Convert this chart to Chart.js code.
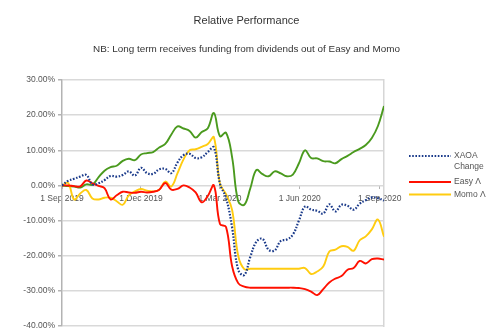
<!DOCTYPE html>
<html>
<head>
<meta charset="utf-8">
<script src="https://cdn.jsdelivr.net/npm/chart.js@4.4.0/dist/chart.umd.min.js"></script>
<style>
html,body{margin:0;padding:0;background:#fff;}
#wrap{width:497px;height:335px;}
</style>
</head>
<body>
<div id="wrap"><canvas id="c" width="497" height="335"></canvas></div>
<script>
// Days since 1 Sep 2019 (weekly observations)
const days = [0,7,14,21,28,35,42,49,56,63,70,77,84,91,98,105,112,119,126,133,140,147,154,161,168,175,182,189,196,203,210,217,224,231,238,245,252,259,266,273,280,287,294,301,308,315,322,329,336,343,350,357,364,371];

const xaoaChange = [0,1.3,1.9,2.5,3.0,0.3,0.6,1.5,2.7,2.5,3.0,4.0,2.8,5.0,3.5,3.3,4.6,4.7,3.5,6.5,8.6,9.0,7.8,8.0,9.5,10.8,0.5,-3.5,-12,-24,-25.5,-20.3,-16,-15.2,-18.3,-18.5,-15.8,-15.4,-14,-10,-6,-6.9,-7.2,-8,-5.4,-7.4,-5.5,-5.8,-6.9,-5.2,-4.2,-3.4,-3.6,-4.3];

const easy = [0,0,-0.2,-0.3,1.4,0.6,-0.1,-0.8,-4.0,-2.8,-1.8,-2.0,-2.1,-1.8,-2.0,-1.8,-1.2,0.7,-1.2,-1.0,0.0,-0.6,-2.0,-4.8,-3.0,0.0,-11.0,-11.8,-23,-27.8,-28.8,-29.1,-29.1,-29.1,-29.1,-29.1,-29.1,-29.1,-29.1,-29.2,-29.5,-30.2,-31.2,-29.5,-27.6,-26.5,-25.8,-24,-23.5,-21.5,-22.2,-21.0,-20.8,-21.1];

const momo = [0,0.7,-4.0,-2.3,-1.3,-3.7,-4.0,-3.5,-3.5,-4.5,-5.5,-2.8,-1.7,-1.0,-1.5,-1.7,-1.2,1.1,-0.3,3.4,7.4,10.0,10.3,11.0,11.8,13.7,0.5,-2.5,-7,-20,-23.8,-23.7,-23.7,-23.7,-23.7,-23.7,-23.7,-23.7,-23.7,-23.7,-23.5,-25.2,-24.5,-23.1,-18.8,-18.3,-17.3,-17.5,-18.6,-15.6,-14.5,-12.5,-9.7,-14.6];

const longTerm = [0,-0.2,-0.3,-0.6,0.3,0.2,2.3,4.2,5.2,5.6,7.0,7.6,7.2,8.8,9.2,9.5,10.8,11.8,14.5,16.8,16.2,15.5,13.6,15.2,16.3,20.6,14.0,15.0,8.0,-4.5,-5.5,-0.8,4.4,3.2,2.6,4.0,3.4,2.6,3.1,6.3,10.0,7.8,7.7,6.9,6.8,6.3,7.5,8.4,9.5,10.4,11.5,13.5,16.9,22.6];

const tickDays = [0,91,182,274,366];
const tickLabels = ['1 Sep 2019','1 Dec 2019','1 Mar 2020','1 Jun 2020','1 Sep 2020'];

const seriesNames = ['XAOA\nChange','Easy \u039B','Momo \u039B','Long term'];
const titleText = 'Relative Performance';
const subtitleText = 'NB: Long term receives funding from dividends out of Easy and Momo';

const FONT = '"Liberation Sans", Arial, sans-serif';
const toPts = arr => arr.map((v,i)=>({x:days[i], y:v}));

const titlePlugin = {
  id:'titles',
  afterDraw(chart){
    const ctx = chart.ctx;
    const cx = chart.width / 2 - 2;
    ctx.save();
    ctx.textAlign = 'center';
    ctx.textBaseline = 'middle';
    ctx.fillStyle = '#333';
    ctx.font = '11px ' + FONT;
    ctx.fillText(titleText, cx, 21);
    ctx.font = '9.9px ' + FONT;
    ctx.fillText(subtitleText, cx, 49);
    ctx.restore();
  }
};

const legendPlugin = {
  id:'customLegend',
  afterDraw(chart){
    const ctx = chart.ctx;
    const ca = chart.chartArea;
    const x0 = ca.right + 25, x1 = ca.right + 67, tx = ca.right + 70;
    const items = [
      {ds:0, y: ca.top + 76},
      {ds:1, y: ca.top + 102},
      {ds:2, y: ca.top + 114.5}
    ];
    ctx.save();
    ctx.font = '8.5px ' + FONT;
    ctx.textBaseline = 'middle';
    ctx.textAlign = 'left';
    items.forEach(it=>{
      const d = chart.data.datasets[it.ds];
      ctx.beginPath();
      ctx.strokeStyle = d.borderColor;
      ctx.lineWidth = d.borderWidth;
      ctx.setLineDash(d.borderDash || []);
      ctx.moveTo(x0, it.y); ctx.lineTo(x1, it.y);
      ctx.stroke();
      ctx.setLineDash([]);
      ctx.fillStyle = '#555';
      const lines = seriesNames[it.ds].split('\n');
      lines.forEach((ln,k)=>ctx.fillText(ln, tx, it.y + k*11));
    });
    ctx.restore();
  }
};

new Chart(document.getElementById('c'), {
  type:'line',
  data:{
    datasets:[
      {label:seriesNames[0], data:toPts(xaoaChange), borderColor:'#1a3a8a', borderWidth:2.2, borderDash:[1.6,1.6], pointRadius:0, tension:0.4, fill:false},
      {label:seriesNames[1], data:toPts(easy), borderColor:'#ff1000', borderWidth:1.9, pointRadius:0, tension:0.4, fill:false},
      {label:seriesNames[2], data:toPts(momo), borderColor:'#ffcc10', borderWidth:1.9, pointRadius:0, tension:0.4, fill:false},
      {label:seriesNames[3], data:toPts(longTerm), borderColor:'#4a9a1e', borderWidth:1.9, pointRadius:0, tension:0.4, fill:false}
    ]
  },
  options:{
    responsive:false,
    animation:false,
    devicePixelRatio:1,
    layout:{padding:{left:4, right:0, top:80, bottom:9}},
    plugins:{
      legend:{display:false},
      tooltip:{enabled:false},
      title:{display:false},
      subtitle:{display:false}
    },
    scales:{
      x:{
        type:'linear',
        position:{y:0},
        min:0, max:371,
        afterBuildTicks(scale){ scale.ticks = tickDays.map(v=>({value:v})); },
        ticks:{
          autoSkip:false, maxRotation:0, color:'#555', padding:4,
          font:{family:FONT, size:8.5},
          callback(v){ const i = tickDays.indexOf(v); return i>=0 ? tickLabels[i] : ''; }
        },
        grid:{drawOnChartArea:false, tickLength:4, color:'#b3b3b3'},
        border:{display:false}
      },
      y:{
        min:-40, max:30,
        afterBuildTicks(scale){ const t=[]; for(let v=-40; v<=30; v+=10) t.push({value:v}); scale.ticks=t; },
        afterFit(scale){ scale.width = 58; },
        ticks:{
          color:'#555', padding:3,
          font:{family:FONT, size:8.5},
          callback(v){ return v.toFixed(2) + '%'; }
        },
        grid:{color:'#d9d9d9', lineWidth:1.5, tickLength:4, tickColor:'#b3b3b3'},
        border:{display:true, color:'#b3b3b3', width:1.5}
      },
      yRight:{
        position:'right',
        min:-40, max:30,
        afterFit(scale){ scale.width = 113; },
        ticks:{display:false},
        grid:{drawOnChartArea:false, drawTicks:false},
        border:{display:true, color:'#d6d6d6', width:1.5}
      }
    }
  },
  plugins:[legendPlugin, titlePlugin]
});
</script>
</body>
</html>
